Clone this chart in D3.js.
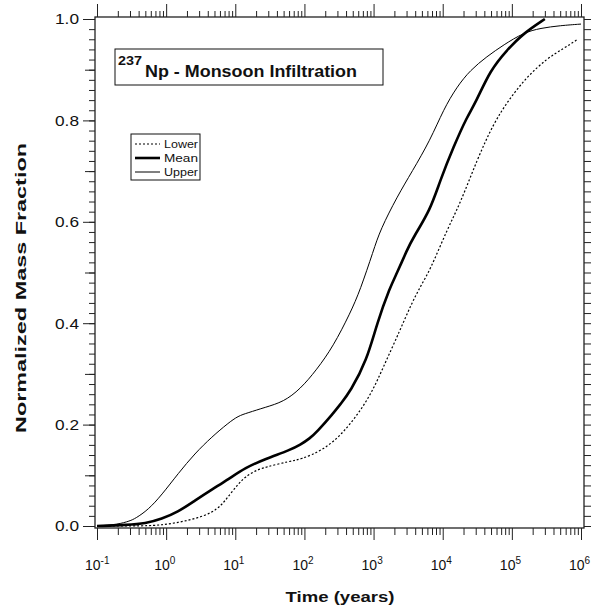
<!DOCTYPE html>
<html>
<head>
<meta charset="utf-8">
<script src="https://cdn.jsdelivr.net/npm/d3@7"></script>
<style>
  body { margin: 0; background: #fff; }
  svg { display: block; }
  text { font-family: "Liberation Sans", Arial, Helvetica, sans-serif; fill: #111; }
</style>
</head>
<body>
<svg id="chart" width="593" height="609"></svg>
<script>
// Cumulative normalized mass fraction of 237Np released vs. time (years)
const lowerTime = [0.1, 0.5, 0.86, 1.5, 2.6, 4.6, 6.3, 7.9, 11.2, 14, 19.4, 27, 62, 87, 188, 367, 850, 1390, 2430, 3390, 4720, 6600, 11500, 17900, 31300, 54300, 89500, 165000, 322000, 560000, 900000];
const lowerFrac = [0, 0, 0.002, 0.007, 0.014, 0.026, 0.041, 0.058, 0.084, 0.097, 0.109, 0.116, 0.128, 0.131, 0.15, 0.183, 0.249, 0.314, 0.387, 0.433, 0.472, 0.505, 0.584, 0.636, 0.722, 0.794, 0.84, 0.886, 0.922, 0.942, 0.96];

const meanTime = [0.1, 0.28, 0.5, 0.86, 1.5, 2.6, 4.6, 7.9, 14, 27, 62, 87, 120, 150, 260, 330, 460, 800, 1120, 1740, 2170, 3030, 3780, 6600, 9200, 14350, 22400, 30000, 48600, 85000, 148000, 300000];
const meanFrac = [0, 0.002, 0.005, 0.014, 0.028, 0.05, 0.072, 0.092, 0.115, 0.132, 0.15, 0.16, 0.173, 0.185, 0.222, 0.24, 0.265, 0.327, 0.40, 0.472, 0.498, 0.544, 0.57, 0.623, 0.682, 0.748, 0.807, 0.835, 0.899, 0.939, 0.972, 1.0];

const upperTime = [0.1, 0.2, 0.3, 0.36, 0.55, 0.86, 1.5, 2.6, 4.6, 7.9, 11, 15, 27, 50, 87, 150, 260, 460, 640, 1000, 1250, 2200, 3600, 6600, 10300, 16000, 25000, 43500, 76000, 148000, 260000, 500000, 1000000];
const upperFrac = [0, 0.003, 0.01, 0.015, 0.032, 0.061, 0.104, 0.143, 0.176, 0.203, 0.217, 0.223, 0.234, 0.245, 0.27, 0.308, 0.354, 0.42, 0.465, 0.544, 0.584, 0.65, 0.699, 0.761, 0.822, 0.866, 0.899, 0.926, 0.949, 0.973, 0.982, 0.987, 0.99];

const decadeTicks = [0.1, 1, 10, 100, 1000, 10000, 100000, 1000000];
const decadeExponents = ["-1", "0", "1", "2", "3", "4", "5", "6"];
const fracMajorTicks = [0, 0.2, 0.4, 0.6, 0.8, 1.0];
const fracMidTicks = [0.1, 0.3, 0.5, 0.7, 0.9];

const seriesNames = ["Lower", "Mean", "Upper"];
const titleIsotope = "237";
const titleText = "Np - Monsoon Infiltration";
const xTitle = "Time (years)";
const yTitle = "Normalized Mass Fraction";

const svg = d3.select("#chart");
const frame = { left: 95, right: 584, top: 17, bottom: 528 };

const x = d3.scaleLog().domain([0.1, 1e6]).range([97, 581]);
const y = d3.scaleLinear().domain([0, 1]).range([526, 19]);

// minor log ticks 2..9 within each decade
const minorX = [];
decadeTicks.slice(0, -1).forEach(d => { for (let k = 2; k <= 9; k++) minorX.push(+(k * d).toPrecision(3)); });
// fine fraction ticks every 0.02
const fineY = d3.range(0, 51).map(i => +(i * 0.02).toFixed(2));

function axisGroup(transform) {
  return svg.append("g").attr("transform", transform).attr("color", "#222");
}
function noDomain(g) { g.select(".domain").remove(); }

// bottom ticks
axisGroup(`translate(0,${frame.bottom})`).call(d3.axisBottom(x).tickValues(minorX).tickSize(7).tickFormat("")).call(noDomain);
axisGroup(`translate(0,${frame.bottom})`).call(d3.axisBottom(x).tickValues(decadeTicks).tickSize(12).tickFormat("")).call(noDomain);
// top ticks
axisGroup(`translate(0,${frame.top})`).call(d3.axisTop(x).tickValues(minorX).tickSize(6).tickFormat("")).call(noDomain);
axisGroup(`translate(0,${frame.top})`).call(d3.axisTop(x).tickValues(decadeTicks).tickSize(13).tickFormat("")).call(noDomain);
// left ticks
axisGroup(`translate(${frame.left},0)`).call(d3.axisLeft(y).tickValues(fineY).tickSize(6).tickFormat("")).call(noDomain);
axisGroup(`translate(${frame.left},0)`).call(d3.axisLeft(y).tickValues(fracMidTicks).tickSize(10).tickFormat("")).call(noDomain);
const gLeft = axisGroup(`translate(${frame.left},0)`)
  .call(d3.axisLeft(y).tickValues(fracMajorTicks).tickSize(12).tickPadding(4).tickFormat(d3.format(".1f")))
  .call(noDomain);
gLeft.selectAll("text").attr("font-size", 15).attr("textLength", 24).attr("lengthAdjust", "spacingAndGlyphs").attr("fill", "#111");
// right ticks
axisGroup(`translate(${frame.right},0)`).call(d3.axisRight(y).tickValues(fineY).tickSize(7).tickFormat("")).call(noDomain);

// decade labels with superscript exponents
decadeTicks.forEach((d, i) => {
  const t = svg.append("text").attr("x", x(d) - 12).attr("y", 570).attr("font-size", 14).text("10");
  t.append("tspan").attr("dy", -6).attr("font-size", 10).text(decadeExponents[i]);
});

// frame
svg.append("rect")
  .attr("x", frame.left).attr("y", frame.top)
  .attr("width", frame.right - frame.left).attr("height", frame.bottom - frame.top)
  .attr("fill", "none").attr("stroke", "#222").attr("stroke-width", 1.3);

// curves
const line = d3.line().x(d => x(d[0])).y(d => y(d[1])).curve(d3.curveBasis);
const styles = {
  Lower: { w: 1.2, dash: "2,2" },
  Mean: { w: 2.6, dash: null },
  Upper: { w: 1, dash: null }
};
const seriesData = {
  Lower: d3.zip(lowerTime, lowerFrac),
  Mean: d3.zip(meanTime, meanFrac),
  Upper: d3.zip(upperTime, upperFrac)
};
seriesNames.forEach(name => {
  svg.append("path").datum(seriesData[name])
    .attr("d", line).attr("fill", "none").attr("stroke", "#000")
    .attr("stroke-width", styles[name].w)
    .attr("stroke-dasharray", styles[name].dash)
    .attr("stroke-linejoin", "round");
});

// title box
svg.append("rect").attr("x", 115).attr("y", 49).attr("width", 268).attr("height", 36)
  .attr("fill", "#fff").attr("stroke", "#111").attr("stroke-width", 1);
svg.append("text").attr("x", 118).attr("y", 65).attr("font-size", 13).attr("font-weight", "bold")
  .attr("textLength", 24).attr("lengthAdjust", "spacingAndGlyphs").text(titleIsotope);
svg.append("text").attr("x", 145).attr("y", 77).attr("font-size", 17).attr("font-weight", "bold")
  .attr("textLength", 212).attr("lengthAdjust", "spacingAndGlyphs").text(titleText);

// legend
svg.append("rect").attr("x", 131).attr("y", 134).attr("width", 69).attr("height", 46)
  .attr("fill", "#fff").attr("stroke", "#111").attr("stroke-width", 1);
seriesNames.forEach((name, i) => {
  const ly = 144 + i * 14;
  svg.append("line").attr("x1", 135).attr("x2", 160).attr("y1", ly).attr("y2", ly)
    .attr("stroke", "#000").attr("stroke-width", styles[name].w).attr("stroke-dasharray", styles[name].dash);
  svg.append("text").attr("x", 164).attr("y", ly + 4).attr("font-size", 11)
    .attr("textLength", 34).attr("lengthAdjust", "spacingAndGlyphs").text(name);
});

// axis titles
svg.append("text").attr("x", 340).attr("y", 602).attr("text-anchor", "middle")
  .attr("font-size", 15).attr("font-weight", "bold")
  .attr("textLength", 109).attr("lengthAdjust", "spacingAndGlyphs").text(xTitle);
svg.append("text").attr("transform", "translate(26,288) rotate(-90)").attr("text-anchor", "middle")
  .attr("font-size", 15).attr("font-weight", "bold")
  .attr("textLength", 290).attr("lengthAdjust", "spacingAndGlyphs").text(yTitle);
</script>
</body>
</html>
